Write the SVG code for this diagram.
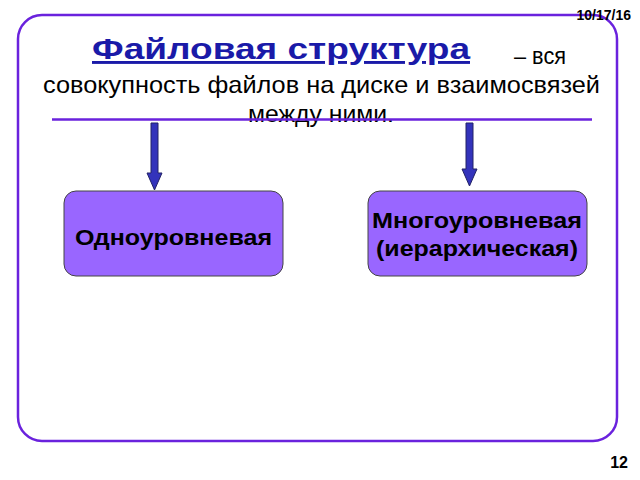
<svg xmlns="http://www.w3.org/2000/svg" width="640" height="480" viewBox="0 0 640 480">
<style>
.box{fill:#9966ff;stroke:#444;stroke-width:1}
.bt{font-family:"Liberation Sans",Arial,sans-serif;font-weight:bold;font-size:22px;fill:#000}
.t{font-family:"Liberation Sans",Arial,sans-serif;font-size:24px;fill:#000}
.arr{fill:#3333bb;stroke:#222266;stroke-width:1}
</style>
<rect width="640" height="480" fill="#fff"/>
<rect x="18" y="15" width="599" height="426" rx="24" fill="none" stroke="#6a22dd" stroke-width="2.5"/>
<text x="631" y="20" font-family="Liberation Sans,Arial,sans-serif" font-weight="bold" font-size="14" text-anchor="end">10/17/16</text>
<text x="628" y="468" font-family="Liberation Sans,Arial,sans-serif" font-weight="bold" font-size="16" text-anchor="end">12</text>
<g id="title">
<text x="92" y="59" font-family="Liberation Sans,Arial,sans-serif" font-weight="bold" font-size="29" fill="#1a1aa8" text-decoration="underline" textLength="378" lengthAdjust="spacingAndGlyphs">Файловая структура</text>
<text x="514" y="64" class="t" textLength="52" lengthAdjust="spacingAndGlyphs">– вся</text>
<text x="43" y="93" class="t" textLength="557" lengthAdjust="spacingAndGlyphs">совокупность файлов на диске и взаимосвязей</text>
<text x="248" y="122" class="t" textLength="146" lengthAdjust="spacingAndGlyphs">между ними.</text>
<line x1="52" y1="119.5" x2="592" y2="119.5" stroke="#6a22dd" stroke-width="2.5"/>
</g>
<g id="connectors">
<polygon class="arr" points="151,123 158,123 158,173 162,173 154.5,190 147,173 151,173"/>
<polygon class="arr" points="466,123 473,123 473,169 477,169 469.5,186 462,169 466,169"/>
</g>
<g id="single">
<rect class="box" x="64" y="191" width="219" height="85" rx="12"/>
<text class="bt" x="75" y="245" textLength="197" lengthAdjust="spacingAndGlyphs">Одноуровневая</text>
</g>
<g id="multi">
<rect class="box" x="368" y="191" width="219" height="85" rx="12"/>
<text class="bt" x="372" y="228" textLength="210" lengthAdjust="spacingAndGlyphs">Многоуровневая</text>
<text class="bt" x="376" y="256" textLength="202" lengthAdjust="spacingAndGlyphs">(иерархическая)</text>
</g>
</svg>
